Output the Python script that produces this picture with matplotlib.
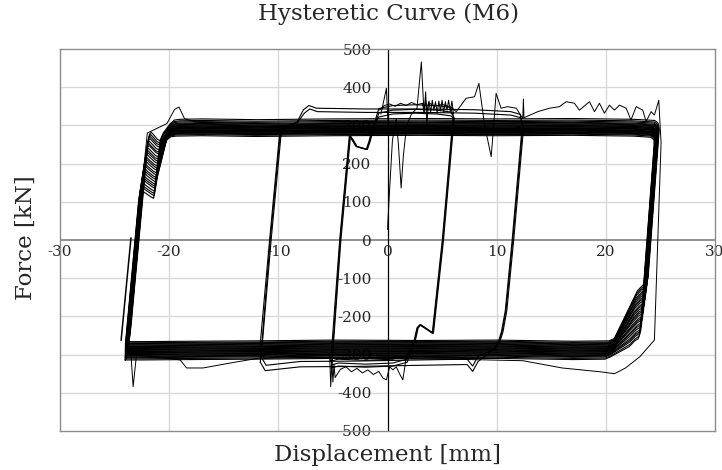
import matplotlib
matplotlib.use("Agg")
import matplotlib.pyplot as plt
from matplotlib.transforms import offset_copy

# ---------------------------------------------------------------- labels
TITLE = "Hysteretic Curve (M6)"
X_LABEL = "Displacement [mm]"
Y_LABEL = "Force [kN]"
X_TICKS = [-30, -20, -10, 0, 10, 20, 30]
Y_TICKS = [-500, -400, -300, -200, -100, 0, 100, 200, 300, 400, 500]

# ------------------------------------------- large cycles (about +-24 mm)
# one entry per cycle
BIG_PEAK = [282, 276, 271, 265, 258, 252, 247, 240, 234, 228, 223, 216, 210,
            205, 198, 192, 186, 181, 174, 168, 163, 157, 150, 144, 138, 131]
BIG_SHOULDER = [-109, -115, -121, -127, -133, -139, -144, -150, -156, -162,
                -168, -174, -179, -185, -191, -197, -203, -208, -214, -220,
                -226, -232, -238, -243, -249, -255]
BIG_TOP = [316, 312, 309, 306, 304, 302, 300, 298, 297, 295, 294, 292, 291,
           290, 288, 287, 286, 285, 284, 283, 281, 280, 279, 277, 275, 272]
BIG_BOTTOM = [-264, -267, -269, -271, -273, -275, -277, -279, -280, -282,
              -284, -285, -287, -289, -290, -292, -293, -295, -297, -298,
              -300, -302, -304, -306, -309, -312]
BIG_SHIFT = [0.18, 0.15, 0.12, 0.14, 0.10, 0.08, 0.11, 0.06, 0.04, 0.07,
             0.02, 0.00, 0.03, -0.02, -0.04, -0.01, -0.06, -0.08, -0.05,
             -0.10, -0.12, -0.09, -0.14, -0.16, -0.13, -0.18]

# ------------------------------------------ medium cycles (about +-12 mm)
MID_TOP = [345, 336, 298]
MID_BOTTOM = [-332, -318, -300]
MID_SHIFT = [0.0, 0.08, -0.06]

# ------------------------------------------- small cycles (about +-5 mm)
SMALL_TOP = [352, 340, 330]
SMALL_BOTTOM = [-330, -322, -312]
SMALL_SHIFT = [0.0, 0.06, -0.05]

# ------------------------------------------ first excursion (noisy trace)
FIRST_X = [0.0, 0.15, 0.45, 0.8, 1.0, 1.25, 1.45, 1.75, 2.2, 2.7, 3.1, 3.35,
           3.5, 3.6, 3.75, 4.3, 5.0, 5.8, 6.3, 7.2, 7.97, 8.37, 8.9, 9.5,
           9.95, 10.4, 11.0, 11.8, 12.39, 12.45, 12.5, 13.77, 14.84, 15.75,
           16.36, 17.12, 17.58, 18.5, 18.96, 19.41, 19.87, 20.33, 20.79,
           21.25, 21.86, 22.3, 22.78, 23.38, 23.69, 24.15, 24.45, 24.85,
           25.06, 24.45, 23.1, 21.8, 20.8, 19.5, 16.0, 12.4, 6.0, 0.0, -6.0,
           -11.7, -14.0, -16.9, -18.4, -19.0, -21.0, -23.0, -23.3, -23.5,
           -23.7, -22.9, -22.0, -20.2, -19.5, -19.1, -18.6, -17.5, -12.0]
FIRST_Y = [28, 110, 260, 318, 250, 136, 220, 300, 330, 345, 466, 330, 388,
           300, 360, 350, 355, 348, 336, 371, 375, 410, 300, 218, 384, 345,
           349, 345, 318, 369, 320, 336, 345, 349, 362, 358, 340, 362, 336,
           358, 332, 353, 340, 353, 345, 314, 349, 340, 310, 336, 327, 366,
           254, -262, -306, -335, -350, -345, -335, -316, -312, -310, -308,
           -309, -320, -335, -335, -314, -306, -302, -384, -300, -280, 30,
           280, 305, 342, 348, 318, 308, 306]

# vibration on the positive plateau of the small cycles
COMB_X = [-0.7, -0.3, 0.2, 0.7, 1.2, 1.7, 2.2, 2.7, 3.2, 3.35, 3.5, 3.65,
          3.8, 3.95, 4.1, 4.25, 4.4, 4.55, 4.7, 4.85, 5.0, 5.15, 5.3, 5.45,
          5.6, 5.75, 5.9, 6.05]
COMB_Y = [340, 352, 356, 350, 358, 352, 360, 354, 358, 336, 366, 338, 364,
          334, 366, 340, 362, 332, 364, 338, 366, 334, 362, 340, 366, 336,
          364, 330]

# noise on the negative plateau of the small cycles
NOISE_X = [-5.3, -5.2, -5.1, -5.0, -4.9, -4.8, -4.3, -3.8, -3.3, -2.8, -2.3,
           -1.8, -1.3, -0.8, -0.4, -0.1, 0.2, 0.5, 0.8, 1.1, 1.4, 1.6, 1.7]
NOISE_Y = [-300, -384, -320, -372, -325, -360, -338, -332, -345, -336, -348,
           -340, -352, -344, -362, -366, -332, -340, -332, -350, -366, -330,
           -300]

SPIKE_X = [-0.6, -0.1, 0.05]
SPIKE_Y = [330, 397, 300]

STUB_X = [-24.4, -23.5]
STUB_Y = [-262, 5]


def big_loop(p, s, t, b, d):
    """Vertices of one large cycle: pinched reversal on both ends."""
    def xl(y):
        return -22.95 + d + y / 310.0

    def xr(y):
        return 23.95 + d + y / 380.0

    trough_x = -21.25 + d + (p - 130) * 0.0015
    pts = [(-23.85 + d, b - 2), (xl(b + 40), b + 40), (xl(0), 0),
           (xl(p - 30), p - 30), (xl(p) + 0.06, p - 5), (xl(p) + 0.22, p),
           (xl(p) + 0.42, p - 6), (trough_x - 0.25, p - 18),
           (trough_x, p - 22),
           (trough_x + 0.3, p - 12 + (t - p) * 0.3),
           (-20.1 + d, t - 12), (-19.7 + d, t - 2), (-19.2 + d, t),
           (-17, t + 1), (-12, t - 1), (-5, t + 1), (3, t + 2), (10, t + 1),
           (17, t + 2), (22.5, t), (24.3 + d, t - 3), (24.6 + d, t - 10),
           (xr(t - 25), t - 25), (xr(0), 0), (xr(s + 12), s + 12),
           (xr(s) - 0.12, s - 3), (xr(s) - 0.45, s - 9),
           (xr(s) - 0.95, s - 24), (20.6 + d, b + 6), (20.1 + d, b),
           (17, b - 1), (10, b + 2), (3, b + 1), (-5, b + 2), (-12, b),
           (-18, b - 1), (-22.5, b - 2), (-23.85 + d, b - 2)]
    return zip(*pts)


def mid_loop(T, B, d):
    pts = [(-11.65 + d, B + 12), (-10.74 + d, 0), (-9.85 + d, 270),
           (-9.55 + d, 292), (-9.1 + d, 300)]
    if T > 310:
        pts += [(-8.3 + d, 308), (-7.7 + d, T - 4), (-7.2 + d, T + 7),
                (-6.5 + d, T)]
    else:
        pts += [(-6.5, T)]
    pts += [(-2, T - 2), (3, T - 2), (8, T - 4), (11.3, T - 9),
            (12.15 + d, max(T - 16, 296)), (12.38 + d, 292),
            (11.48 + d, 0), (10.85 + d, -185), (10.5 + d, -240),
            (10.22 + d, -266), (9.8 + d, -285)]
    if B < -310:
        pts += [(8.3, B + 14), (7.8, B - 12), (7.3, B + 6)]
    pts += [(3, B + 4), (-3, B + 1), (-8, B), (-11.2 + d, B - 10),
            (-11.65 + d, B + 12)]
    return zip(*pts)


def small_loop(T, B, d):
    pts = [(-5.15 + d, B - 5), (-4.33 + d, 0), (-3.45 + d, 272),
           (-3.2 + d, 262), (-2.85 + d, 245), (-1.9 + d, 237),
           (-1.65 + d, 258), (-1.3 + d, 296), (-0.8, T - 8), (0.5, T),
           (2.5, T + 2), (4.5, T), (5.8, T - 5), (6.05 + d, 320),
           (5.07 + d, 0), (4.15 + d, -244), (3.95 + d, -240),
           (3.0 + d, -222), (2.75 + d, -230), (2.5 + d, -262),
           (1.8, B + 10), (0.5, B), (-2, B - 3), (-4.5, B), (-5.15 + d, B - 5)]
    return zip(*pts)


plt.rcParams["font.family"] = ["DejaVu Serif"]

fig = plt.figure(figsize=(7.22, 4.70), dpi=100)
ax = fig.add_axes([60 / 722, 1 - 431 / 470, 655 / 722, 382 / 470])
ax.set_xlim(-30, 30)
ax.set_ylim(-500, 500)

# grid
for gx in [-20, -10, 10, 20]:
    ax.axvline(gx, color="#d9d9d9", lw=1.0, zorder=0)
for gy in [-400, -300, -200, -100, 100, 200, 300, 400]:
    ax.axhline(gy, color="#d9d9d9", lw=1.0, zorder=0)

# frame and zero axes
for sp in ax.spines.values():
    sp.set_color("#8c8c8c")
    sp.set_linewidth(1.0)
ax.axhline(0, color="#7f7f7f", lw=1.2, zorder=1)
ax.axvline(0, color="black", lw=0.9, zorder=1)
ax.set_xticks([])
ax.set_yticks([])

# tick labels sitting on the zero axes
lab_x = offset_copy(ax.transData, fig=fig, x=0, y=-5, units="dots")
for v in X_TICKS:
    ax.text(v, 0, f"{v}", transform=lab_x, ha="center", va="top",
            fontsize=11, color="#262626", zorder=1, clip_on=False)
lab_y = offset_copy(ax.transData, fig=fig, x=-16, y=0, units="dots")
for v in Y_TICKS:
    ax.text(0, v, f"{v}", transform=lab_y, ha="right", va="center_baseline",
            fontsize=11, color="#262626", zorder=1, clip_on=False)

line_kw = dict(color="black", lw=0.8, zorder=3, solid_joinstyle="round")

for p, s, t, b, d in zip(BIG_PEAK, BIG_SHOULDER, BIG_TOP, BIG_BOTTOM,
                         BIG_SHIFT):
    xs, ys = big_loop(p, s, t, b, d)
    ax.plot(xs, ys, **line_kw)

for T, B, d in zip(MID_TOP, MID_BOTTOM, MID_SHIFT):
    xs, ys = mid_loop(T, B, d)
    ax.plot(xs, ys, **line_kw)

for T, B, d in zip(SMALL_TOP, SMALL_BOTTOM, SMALL_SHIFT):
    xs, ys = small_loop(T, B, d)
    ax.plot(xs, ys, **line_kw)

thin_kw = dict(color="black", lw=0.7, zorder=3)
ax.plot(FIRST_X, FIRST_Y, **thin_kw)
ax.plot(COMB_X, COMB_Y, **thin_kw)
ax.plot(NOISE_X, NOISE_Y, **thin_kw)
ax.plot(SPIKE_X, SPIKE_Y, **thin_kw)
ax.plot(STUB_X, STUB_Y, color="black", lw=1.1, zorder=3)

fig.text(388 / 722, 1 - 14 / 470, TITLE, ha="center", va="center",
         fontsize=16.5, color="#262626")
fig.text(388 / 722, 1 - 455 / 470, X_LABEL, ha="center", va="center",
         fontsize=16.5, color="#262626")
fig.text(26 / 722, 1 - 238 / 470, Y_LABEL, ha="center", va="center",
         rotation=90, fontsize=16.5, color="#262626")

fig.savefig("out.png", dpi=100, facecolor="white")
